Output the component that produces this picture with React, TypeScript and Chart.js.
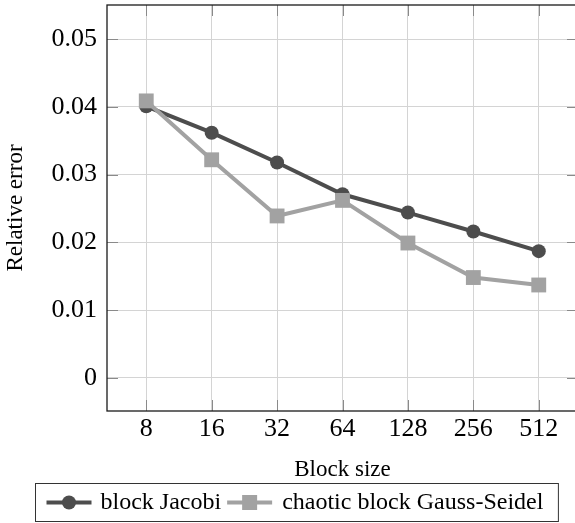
import React, { useEffect, useRef } from "react";
import { Chart, registerables } from "chart.js";

Chart.register(...registerables);

const blockSizes = ["8", "16", "32", "64", "128", "256", "512"];
const jacobiError = [0.0401, 0.0362, 0.0318, 0.0271, 0.0244, 0.0216, 0.0187];
const gaussSeidelError = [0.0409, 0.0322, 0.0239, 0.0262, 0.0199, 0.0148, 0.0137];
const yTickValues = [0, 0.01, 0.02, 0.03, 0.04, 0.05];
const yTickLabels = ["0", "0.01", "0.02", "0.03", "0.04", "0.05"];
const seriesNames = ["block Jacobi", "chaotic block Gauss-Seidel"];
const xTitle = "Block size";
const yTitle = "Relative error";

const JAC = "#4d4d4d";
const GS = "#a2a2a2";
const FONT = '"Liberation Serif", "Times New Roman", serif';

const framePlugin = {
  id: "frame",
  beforeDatasetsDraw(chart: any) {
    const { ctx, chartArea: a, scales } = chart;
    const L = 11;
    ctx.save();
    ctx.strokeStyle = "#8a8a8a";
    ctx.lineWidth = 1;
    const seg = (x1: number, y1: number, x2: number, y2: number) => {
      ctx.beginPath();
      ctx.moveTo(x1, y1);
      ctx.lineTo(x2, y2);
      ctx.stroke();
    };
    scales.x.ticks.forEach((t: any) => {
      const px = Math.round(scales.x.getPixelForValue(t.value)) + 0.5;
      seg(px, a.bottom, px, a.bottom - L);
      seg(px, a.top, px, a.top + L);
    });
    scales.y.ticks.forEach((t: any) => {
      const py = Math.round(scales.y.getPixelForValue(t.value)) + 0.5;
      seg(a.left, py, a.left + L, py);
      seg(a.right, py, a.right - L, py);
    });
    ctx.strokeStyle = "#1a1a1a";
    ctx.lineWidth = 1.3;
    ctx.strokeRect(a.left, a.top, a.right - a.left, a.bottom - a.top);
    ctx.restore();
  },
  afterDraw(chart: any) {
    const { ctx } = chart;
    ctx.save();
    ctx.font = `24px ${FONT}`;
    ctx.textBaseline = "middle";
    const w1 = ctx.measureText(seriesNames[0]).width;
    const w2 = ctx.measureText(seriesNames[1]).width;
    const padL = 11, lineLen = 45, gapT = 9, gapI = 6, gapT2 = 10, padR = 15;
    const total = padL + lineLen + gapT + w1 + gapI + lineLen + gapT2 + w2 + padR;
    const cx = 296;
    const left = Math.round(cx - total / 2) + 0.5;
    const top = 483.5, bottom = 521.5;
    const my = (top + bottom) / 2;
    ctx.strokeStyle = "#333";
    ctx.lineWidth = 1;
    ctx.strokeRect(left, top, total, bottom - top);
    let x = left + padL;
    ctx.strokeStyle = JAC;
    ctx.lineWidth = 4;
    ctx.beginPath();
    ctx.moveTo(x, my);
    ctx.lineTo(x + lineLen, my);
    ctx.stroke();
    ctx.fillStyle = JAC;
    ctx.beginPath();
    ctx.arc(x + lineLen / 2, my, 7, 0, Math.PI * 2);
    ctx.fill();
    x += lineLen + gapT;
    ctx.fillStyle = "#000";
    ctx.fillText(seriesNames[0], x, my);
    x += w1 + gapI;
    ctx.strokeStyle = GS;
    ctx.lineWidth = 4;
    ctx.beginPath();
    ctx.moveTo(x, my);
    ctx.lineTo(x + lineLen, my);
    ctx.stroke();
    ctx.fillStyle = GS;
    ctx.fillRect(x + lineLen / 2 - 7.5, my - 7.5, 15, 15);
    x += lineLen + gapT2;
    ctx.fillStyle = "#000";
    ctx.fillText(seriesNames[1], x, my);
    ctx.restore();
  },
};

export default function App() {
  const ref = useRef<HTMLCanvasElement>(null);

  useEffect(() => {
    if (!ref.current) return;
    const chart = new Chart(ref.current, {
      type: "line",
      data: {
        datasets: [
          {
            label: seriesNames[0],
            data: blockSizes.map((_, i) => ({ x: i, y: jacobiError[i] })),
            borderColor: JAC,
            backgroundColor: JAC,
            borderWidth: 4,
            pointStyle: "circle",
            pointRadius: 7,
            pointBorderWidth: 0,
            pointBackgroundColor: JAC,
            order: 1,
          },
          {
            label: seriesNames[1],
            data: blockSizes.map((_, i) => ({ x: i, y: gaussSeidelError[i] })),
            borderColor: GS,
            backgroundColor: GS,
            borderWidth: 4,
            pointStyle: "rect",
            pointRadius: 10.5,
            pointBorderWidth: 0,
            pointBackgroundColor: GS,
            order: 0,
          },
        ],
      },
      options: {
        animation: false,
        responsive: false,
        devicePixelRatio: 1,
        layout: { autoPadding: false, padding: { top: 5, left: 0, right: 7, bottom: 42 } },
        plugins: {
          legend: { display: false },
          tooltip: { enabled: false },
        },
        scales: {
          x: {
            type: "linear",
            min: -0.6,
            max: 6.6,
            afterBuildTicks: (scale: any) => {
              scale.ticks = blockSizes.map((_, i) => ({ value: i }));
            },
            afterFit: (scale: any) => {
              scale.height = 70;
              scale.paddingLeft = 0;
              scale.paddingRight = 0;
            },
            grid: { color: "#d4d4d4", drawTicks: false, lineWidth: 1 },
            border: { display: false },
            ticks: {
              autoSkip: false,
              maxRotation: 0,
              padding: 3,
              color: "#000",
              font: { family: FONT, size: 26, lineHeight: 1.2 },
              callback: (v: any) => blockSizes[Math.round(Number(v))],
            },
            title: {
              display: true,
              text: xTitle,
              color: "#000",
              font: { family: FONT, size: 23, lineHeight: 1 },
              padding: { top: 0, bottom: 0 },
            },
          },
          y: {
            type: "linear",
            min: -0.00492,
            max: 0.05507,
            afterBuildTicks: (scale: any) => {
              scale.ticks = yTickValues.map((v) => ({ value: v }));
            },
            afterFit: (scale: any) => {
              scale.width = 107;
              scale.paddingTop = 0;
              scale.paddingBottom = 0;
            },
            grid: { color: "#d4d4d4", drawTicks: false, lineWidth: 1 },
            border: { display: false },
            ticks: {
              padding: 10,
              color: "#000",
              font: { family: FONT, size: 26 },
              callback: (_v: any, i: number) => yTickLabels[i],
            },
            title: {
              display: true,
              text: yTitle,
              color: "#000",
              font: { family: FONT, size: 23, lineHeight: 1.2 },
              padding: { top: 2, bottom: 0 },
            },
          },
        },
      },
      plugins: [framePlugin],
    });
    return () => chart.destroy();
  }, []);

  return (
    <div
      style={{
        position: "absolute",
        left: 0,
        top: 0,
        width: 575,
        height: 523,
        overflow: "hidden",
        background: "#fff",
      }}
    >
      <canvas ref={ref} width={585} height={523} style={{ display: "block" }} />
    </div>
  );
}
